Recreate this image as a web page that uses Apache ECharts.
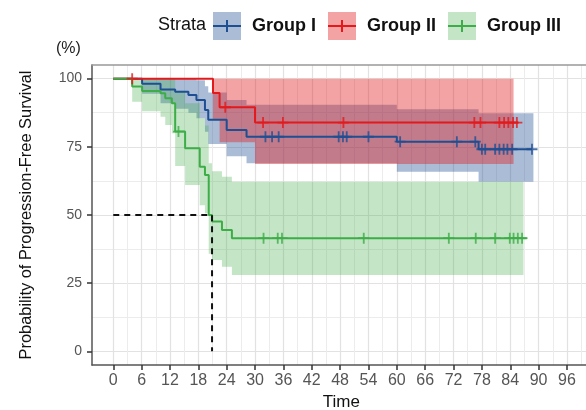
<!DOCTYPE html>
<html>
<head>
<meta charset="utf-8">
<script src="https://cdn.jsdelivr.net/npm/echarts@6/dist/echarts.min.js"></script>
<style>
  html, body { margin: 0; padding: 0; background: #fff; }
  #chart { width: 586px; height: 410px; }
</style>
</head>
<body>
<div id="chart"></div>
<script>
// axis ticks
const xTicks = [0, 6, 12, 18, 24, 30, 36, 42, 48, 54, 60, 66, 72, 78, 84, 90, 96]
const xMinor = [3, 9, 15, 21, 27, 33, 39, 45, 51, 57, 63, 69, 75, 81, 87, 93, 99]
const yTicks = [0, 25, 50, 75, 100]
const yMinor = [12.5, 37.5, 62.5, 87.5]
const groups = ['Group I', 'Group II', 'Group III']

// Group I (step times, survival %, CI)
const timeI = [0, 6.1, 10.0, 13.1, 15.9, 17.6, 19.4, 20.1, 24.0, 28.2, 60.0, 77.3]
const survI = [100, 98.1, 96.0, 95.2, 94.0, 92.2, 88.5, 84.9, 81.2, 78.7, 76.9, 74.1]
const lowI = [100, 94.5, 91.0, 89.0, 87.5, 85.5, 80.5, 76.0, 71.5, 69.0, 65.9, 62.2]
const upI = [100, 100, 100, 100, 100, 99.4, 97.2, 94.9, 92.2, 90.4, 88.8, 87.3]
const censI = [32.2, 33.6, 35.0, 47.7, 48.6, 49.4, 54.0, 60.7, 72.7, 76.6, 78.0, 78.7, 80.8, 81.7, 82.6, 83.4, 84.4, 88.6]
const endI = [88.6, 88.9] // line end, band end

// Group II
const timeII = [0, 21.1, 22.5, 30.0]
const survII = [100, 94.7, 89.5, 83.9]
const lowII = [100, 85.2, 76.7, 68.7]
const upII = [100, 100, 100, 100]
const censII = [4.0, 23.7, 31.7, 35.9, 48.7, 76.4, 77.7, 81.7, 82.7, 83.6, 84.6, 85.4]
const endII = [85.7, 84.7]

// Group III
const timeIII = [0, 4.0, 6.1, 10.0, 11.0, 12.4, 13.1, 15.2, 18.3, 19.4, 20.2, 20.9, 23.0, 25.1]
const survIII = [100, 97.1, 95.5, 94.6, 92.8, 91.0, 80.6, 74.5, 67.7, 64.7, 50.0, 47.6, 44.5, 41.5]
const lowIII = [100, 91.5, 88.0, 86.0, 83.0, 80.0, 68.0, 61.0, 53.6, 50.6, 35.8, 33.5, 31.0, 28.0]
const upIII = [100, 100, 100, 100, 100, 100, 95.6, 91.0, 85.5, 82.8, 69.0, 66.0, 64.0, 62.2]
const censIII = [13.8, 31.8, 34.8, 35.7, 53.0, 71.0, 76.7, 80.8, 83.9, 84.7, 85.6, 86.5]
const endIII = [87.5, 86.8]

// median survival of Group III
const median = [20.9, 50]

const lineColors = ['#1f4f93', '#e3191c', '#3dad47']
const bandColors = ['rgba(31,79,147,0.38)', 'rgba(227,25,28,0.4)', 'rgba(61,173,71,0.3)']

const plus = 'path://M5,0H7V5H12V7H7V12H5V7H0V5H5Z'
const keyPlus = 'path://M0,0H0.01V0.01H0ZM27.99,27.99H28V28H27.99ZM0,13H28V15H0ZM13,8H15V20H13Z'
const font = 'Liberation Sans, Arial, sans-serif'

function stepAt(times, vals, t) {
  let v = vals[0]
  times.forEach((x, i) => { if (x <= t) v = vals[i] })
  return v
}

function lineSeries(i, times, vals, end) {
  return {
    name: groups[i],
    type: 'line',
    step: 'end',
    symbol: 'none',
    silent: true,
    z: 3,
    lineStyle: { color: lineColors[i], width: 2 },
    data: times.map((t, k) => [t, vals[k]]).concat([[end, vals[vals.length - 1]]]),
  }
}

function bandSeries(i, times, low, up, end) {
  return {
    name: groups[i],
    type: 'custom',
    silent: true,
    z: 1,
    data: times.map((t, k) => [t, low[k], up[k]]),
    encode: { x: 0, y: [1, 2] },
    renderItem(params, api) {
      if (params.dataIndex !== 0) return null
      const top = []
      const bot = []
      times.forEach((t, k) => {
        const t1 = k < times.length - 1 ? times[k + 1] : end
        top.push(api.coord([t, up[k]]), api.coord([t1, up[k]]))
        bot.push(api.coord([t, low[k]]), api.coord([t1, low[k]]))
      })
      return {
        type: 'polygon',
        shape: { points: top.concat(bot.reverse()) },
        style: { fill: bandColors[i] },
      }
    },
  }
}

function censorSeries(i, cens, times, vals) {
  return {
    name: groups[i],
    type: 'scatter',
    symbol: plus,
    symbolSize: 11,
    silent: true,
    z: 4,
    itemStyle: { color: lineColors[i] },
    data: cens.map((t) => [t, stepAt(times, vals, t)]),
  }
}

const legendBase = {
  left: 208,
  top: 7,
  itemWidth: 28,
  itemHeight: 28,
  itemGap: 12,
  selectedMode: false,
}

const option = {
  animation: false,
  textStyle: { fontFamily: font },
  title: [
    { text: '(%)', left: 51, top: 36, textStyle: { fontSize: 16, fontWeight: 'normal', color: '#222', fontFamily: font } },
    { text: 'Strata', left: 153, top: 11, textStyle: { fontSize: 18, fontWeight: 'normal', color: '#111', fontFamily: font } },
  ],
  legend: [
    Object.assign({}, legendBase, {
      data: groups.map((g, i) => ({ name: g, icon: 'rect', itemStyle: { color: bandColors[i], borderWidth: 0 } })),
      textStyle: { fontSize: 18, fontWeight: 'bold', color: '#111', padding: [0, 0, 0, 6], fontFamily: font },
    }),
    Object.assign({}, legendBase, {
      data: groups.map((g, i) => ({ name: g, icon: keyPlus, itemStyle: { color: lineColors[i], borderWidth: 0 } })),
      textStyle: { fontSize: 18, fontWeight: 'bold', color: 'rgba(0,0,0,0)', padding: [0, 0, 0, 6], fontFamily: font },
    }),
  ],
  grid: { left: 92, top: 65, right: -4.6, bottom: 45, containLabel: false, outerBoundsMode: 'none' },
  xAxis: [
    {
      type: 'value',
      min: -4.5,
      max: 101,
      position: 'bottom',
      name: 'Time',
      nameLocation: 'middle',
      nameGap: 25,
      nameTextStyle: { fontSize: 17, color: '#111', fontFamily: font },
      axisLine: { show: true, onZero: false, lineStyle: { color: '#555', width: 1.5 } },
      axisTick: { show: true, customValues: xTicks, length: 5, lineStyle: { color: '#333', width: 1.5 } },
      axisLabel: { customValues: xTicks, color: '#555', fontSize: 16, margin: 8, fontFamily: font },
      splitLine: { show: true, lineStyle: { color: '#e2e2e2', width: 1.2 } },
    },
    {
      type: 'value',
      min: -4.5,
      max: 101,
      position: 'top',
      axisLine: { show: true, onZero: false, lineStyle: { color: '#999', width: 1.5 } },
      axisTick: { show: false, customValues: xMinor },
      axisLabel: { show: false },
      splitLine: { show: true, lineStyle: { color: '#ececec', width: 1 } },
    },
  ],
  yAxis: [
    {
      type: 'value',
      min: -5,
      max: 105,
      name: 'Probability of Progression-Free Survival',
      nameLocation: 'middle',
      nameGap: 58,
      nameTextStyle: { fontSize: 16.4, color: '#111', fontFamily: font },
      axisLine: { show: true, onZero: false, lineStyle: { color: '#555', width: 1.5 } },
      axisTick: { show: true, customValues: yTicks, length: 5, lineStyle: { color: '#333', width: 1.5 } },
      axisLabel: { customValues: yTicks, color: '#555', fontSize: 14, margin: 10, fontFamily: font },
      splitLine: { show: true, lineStyle: { color: '#e2e2e2', width: 1.2 } },
    },
    {
      type: 'value',
      min: -5,
      max: 105,
      position: 'right',
      axisLine: { show: false },
      axisTick: { show: false, customValues: yMinor },
      axisLabel: { show: false },
      splitLine: { show: true, lineStyle: { color: '#ececec', width: 1 } },
    },
  ],
  series: [
    bandSeries(0, timeI, lowI, upI, endI[1]),
    bandSeries(1, timeII, lowII, upII, endII[1]),
    bandSeries(2, timeIII, lowIII, upIII, endIII[1]),
    lineSeries(0, timeI, survI, endI[0]),
    lineSeries(1, timeII, survII, endII[0]),
    lineSeries(2, timeIII, survIII, endIII[0]),
    censorSeries(0, censI, timeI, survI),
    censorSeries(1, censII, timeII, survII),
    censorSeries(2, censIII, timeIII, survIII),
    {
      type: 'line',
      symbol: 'none',
      silent: true,
      z: 5,
      lineStyle: { color: '#111', width: 2, type: [6, 5] },
      data: [[0, median[1]], [median[0], median[1]], [median[0], 0]],
    },
  ],
}

const chart = echarts.init(document.getElementById('chart'))
chart.setOption(option)
</script>
</body>
</html>
